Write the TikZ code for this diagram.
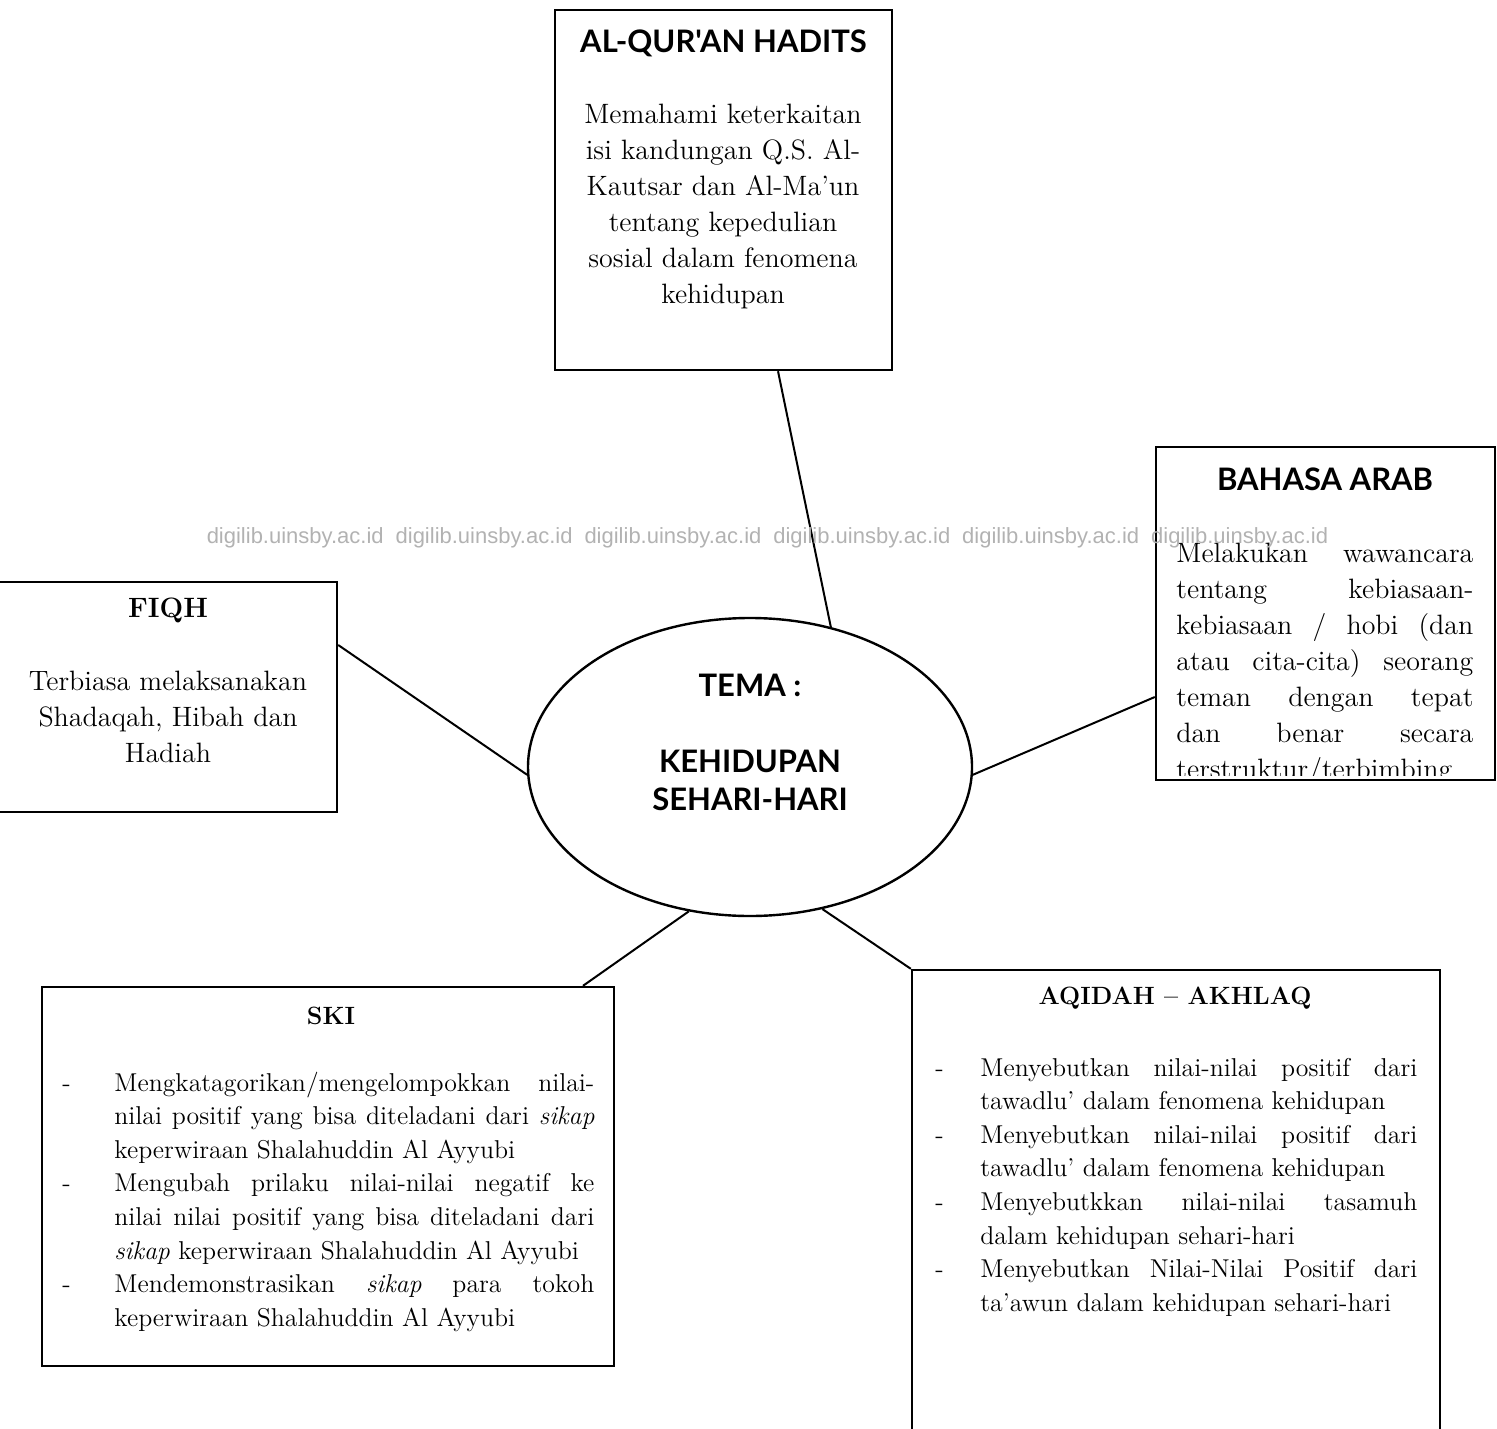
\documentclass[tikz,border=0pt]{standalone}
\usepackage{fontspec}
\newfontfamily\headfont{Lato}
\newfontfamily\markfont{Liberation Sans}
\usetikzlibrary{shapes,positioning,calc}

\tikzset{
  panel/.style={draw, line width=1.2pt, inner sep=0pt},
  link/.style={line width=1pt},
  headsans/.style={font=\headfont\bfseries\fontsize{15.5}{19}\selectfont, inner sep=0pt},
  headserif/.style={font=\bfseries\fontsize{#1}{#1}\selectfont, inner sep=0pt},
  bodytext/.style={font=\fontsize{14}{18}\selectfont, inner sep=0pt, align=center},
  listtext/.style={font=\fontsize{12.9}{16.8}\selectfont, inner sep=0pt, align=justify},
}

\newcommand{\dashitem}[2]{\par\hangindent=#1\hangafter=1\noindent\makebox[#1][l]{-}#2\par}

\begin{document}
\begin{tikzpicture}[x=0.5pt,y=-0.5pt]
  \useasboundingbox (0,0) rectangle (1497,1428);

  % the theme in the middle
  \node[draw, ellipse, line width=1.2pt, minimum width=222pt, minimum height=149pt, inner sep=0pt] (tema) at (750,767) {};
  \node[headsans, align=center] (temalabel) at (750,742) {TEMA :\\[19pt] KEHIDUPAN\\ SEHARI-HARI};

  % subject boxes
  \node[panel, minimum width=168.5pt, minimum height=180pt] (quran) at (723.5,190) {};
  \node[headsans] (quranhead) at (723.5,43) {AL-QUR'AN HADITS};
  \node[bodytext] (quranbody) at (723,207) {Memahami keterkaitan\\ isi kandungan Q.S. Al-\\ Kautsar dan Al-Ma’un\\ tentang kepedulian\\ sosial dalam fenomena\\ kehidupan};

  \node[panel, minimum width=169.5pt, minimum height=166.5pt] (bahasa) at (1325.5,613.5) {};
  \node[headsans] (bahasahead) at (1325,479) {BAHASA ARAB};
  \begin{scope}
    \clip (1156,447) rectangle (1495,775);
    \node[bodytext, align=justify, text width=148.5pt, anchor=north west] (bahasabody) at (1176,543)
      {Melakukan wawancara\linebreak tentang kebiasaan-\linebreak kebiasaan / hobi (dan\linebreak atau cita-cita) seorang\linebreak teman dengan tepat\linebreak dan benar secara\linebreak terstruktur/terbimbing};
  \end{scope}

  \node[panel, minimum width=170pt, minimum height=115pt] (fiqh) at (167,697) {};
  \node[headserif=14] (fiqhhead) at (168,610) {FIQH};
  \node[bodytext] (fiqhbody) at (168,717) {Terbiasa melaksanakan\\ Shadaqah, Hibah dan\\ Hadiah};

  \node[panel, minimum width=286pt, minimum height=189.5pt] (ski) at (328,1176.5) {};
  \node[headserif=12.5] (skihead) at (331,1016) {SKI};
  \node[listtext, text width=266pt, anchor=north west] (skibody) at (62,1057) {%
    \dashitem{26pt}{Mengkatagorikan/mengelompokkan nilai-\linebreak nilai positif yang bisa diteladani dari \textit{sikap}\linebreak keperwiraan Shalahuddin Al Ayyubi}%
    \dashitem{26pt}{Mengubah prilaku nilai-nilai negatif ke\linebreak nilai nilai positif yang bisa diteladani dari\linebreak \textit{sikap} keperwiraan Shalahuddin Al Ayyubi}%
    \dashitem{26pt}{Mendemonstrasikan \textit{sikap} para tokoh\linebreak keperwiraan Shalahuddin Al Ayyubi}};

  \node[panel, minimum width=264pt, minimum height=235pt] (aqidah) at (1176,1205) {};
  \node[headserif=12.5] (aqidahhead) at (1175,998) {AQIDAH – AKHLAQ};
  \node[listtext, text width=241pt, anchor=north west] (aqidahbody) at (935,1042) {%
    \dashitem{22.5pt}{Menyebutkan nilai-nilai positif dari\linebreak tawadlu’ dalam fenomena kehidupan}%
    \dashitem{22.5pt}{Menyebutkan nilai-nilai positif dari\linebreak tawadlu’ dalam fenomena kehidupan}%
    \dashitem{22.5pt}{Menyebutkkan nilai-nilai tasamuh\linebreak dalam kehidupan sehari-hari}%
    \dashitem{22.5pt}{Menyebutkan Nilai-Nilai Positif dari\linebreak ta’awun dalam kehidupan sehari-hari}};

  % spokes
  \draw[link] ($(quran.south)+(54.5,0)$) -- (tema.60);
  \draw[link] ($(bahasa.west)+(0,83.5)$) -- (tema.-2);
  \draw[link] ($(fiqh.east)+(0,-52)$) -- (tema.182);
  \draw[link] ($(ski.north)+(255,0)$) -- (tema.247);
  \draw[link] (aqidah.north west) -- (tema.-63);

  % scan watermark
  \node[font=\markfont\fontsize{11}{13}\selectfont, text=black!30, inner sep=0pt] (watermark) at (767.5,538)
    {digilib.uinsby.ac.id\hspace{6pt}digilib.uinsby.ac.id\hspace{6pt}digilib.uinsby.ac.id\hspace{6pt}digilib.uinsby.ac.id\hspace{6pt}digilib.uinsby.ac.id\hspace{6pt}digilib.uinsby.ac.id};
\end{tikzpicture}
\end{document}
